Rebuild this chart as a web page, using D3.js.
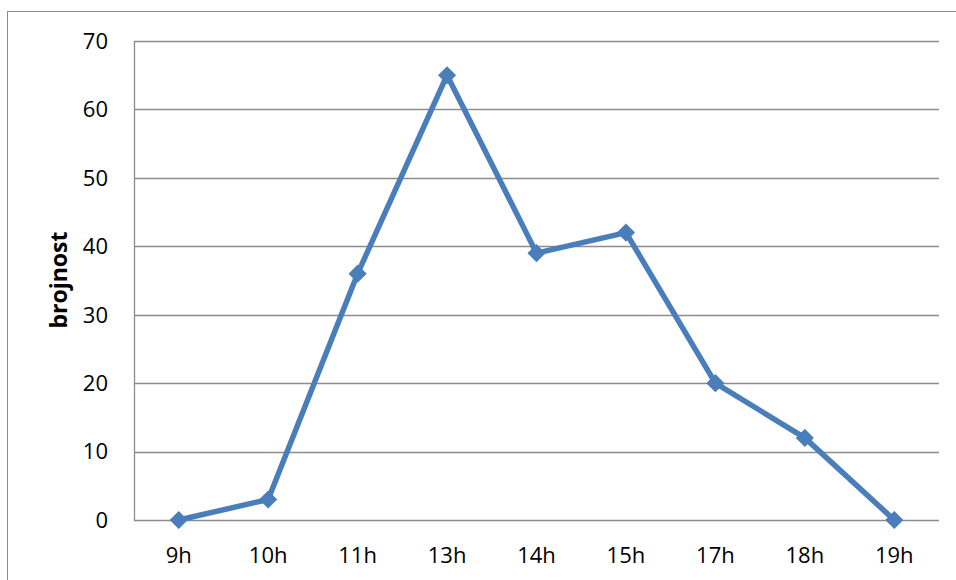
<!DOCTYPE html>
<html lang="en">
<head>
  <meta charset="UTF-8">
  <title>brojnost</title>
  <script src="https://d3js.org/d3.v7.min.js"></script>
  <style>
    body { margin: 0; background: #fff; }
    text { font-family: "Open Sans", sans-serif; fill: #000; }
  </style>
</head>
<body>
  <svg id="chart" width="956" height="580"></svg>
  <script>
    // data
    const hours = ['9h', '10h', '11h', '13h', '14h', '15h', '17h', '18h', '19h'];
    const counts = [0, 3, 36, 65, 39, 42, 20, 12, 0];
    const yTicks = [0, 10, 20, 30, 40, 50, 60, 70];

    const svg = d3.select('#chart');
    const margin = { left: 134, top: 41, right: 939, bottom: 520 };

    // outer chart frame (runs off the right and bottom edges)
    svg.append('rect')
      .attr('x', 7.5).attr('y', 11.5)
      .attr('width', 1000).attr('height', 1000)
      .attr('fill', 'none')
      .attr('stroke', '#8c8c8c');

    const x = d3.scaleBand().domain(hours).range([margin.left, margin.right]);
    const y = d3.scaleLinear().domain([0, 70]).range([margin.bottom, margin.top]);

    // gridlines
    svg.append('g')
      .selectAll('line')
      .data(yTicks)
      .enter()
      .append('line')
      .attr('x1', margin.left).attr('x2', margin.right)
      .attr('y1', (d) => Math.round(y(d)) + 0.5)
      .attr('y2', (d) => Math.round(y(d)) + 0.5)
      .attr('stroke', '#8c8c8c')
      .attr('stroke-width', 1.3);

    // left axis line
    svg.append('line')
      .attr('x1', margin.left + 0.5).attr('x2', margin.left + 0.5)
      .attr('y1', margin.top).attr('y2', margin.bottom)
      .attr('stroke', '#8c8c8c')
      .attr('stroke-width', 1.3);

    // y tick labels
    svg.append('g')
      .selectAll('text')
      .data(yTicks)
      .enter()
      .append('text')
      .attr('x', 108)
      .attr('y', (d) => y(d))
      .attr('dy', '0.36em')
      .attr('text-anchor', 'end')
      .style('font-size', '22px')
      .text((d) => d);

    // x tick labels
    svg.append('g')
      .selectAll('text')
      .data(hours)
      .enter()
      .append('text')
      .attr('x', (d) => x(d) + x.bandwidth() / 2)
      .attr('y', 563)
      .attr('text-anchor', 'middle')
      .style('font-size', '22px')
      .text((d) => d);

    // axis title
    svg.append('text')
      .attr('transform', 'translate(67,280) rotate(-90)')
      .attr('text-anchor', 'middle')
      .style('font-size', '23px')
      .style('font-weight', 'bold')
      .text('brojnost');

    const cx = (i) => x(hours[i]) + x.bandwidth() / 2;

    const line = d3.line()
      .x((d, i) => cx(i))
      .y((d) => y(d));

    svg.append('path')
      .datum(counts)
      .attr('d', line)
      .attr('fill', 'none')
      .attr('stroke', '#4a7ebb')
      .attr('stroke-width', 5.5)
      .attr('stroke-linejoin', 'round');

    // diamond markers
    svg.append('g')
      .selectAll('path')
      .data(counts)
      .enter()
      .append('path')
      .attr('d', d3.symbol().type(d3.symbolDiamond2).size(210))
      .attr('transform', (d, i) => `translate(${cx(i)},${y(d)})`)
      .attr('fill', '#4a7ebb');
  </script>
</body>
</html>
